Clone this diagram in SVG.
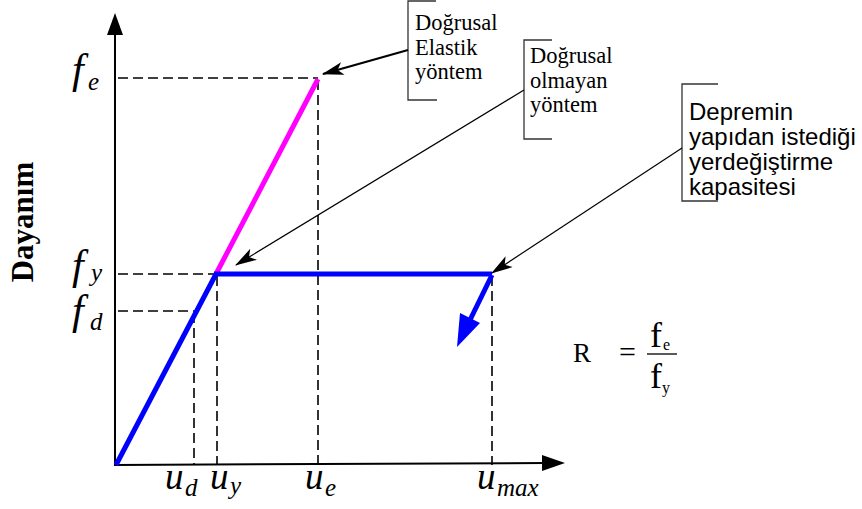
<svg xmlns="http://www.w3.org/2000/svg" width="862" height="509" viewBox="0 0 862 509">
<defs>
<style>
.m{font-family:"Liberation Serif",serif;font-style:italic;font-size:42px;fill:#000}
.u{font-family:"Liberation Serif",serif;font-style:italic;font-size:37px;fill:#000}
.ms{font-family:"Liberation Serif",serif;font-style:italic;font-size:25px;fill:#000}
.t{font-family:"Liberation Serif",serif;font-size:22.5px;fill:#000}
.a{font-family:"Liberation Sans",Arial,sans-serif;font-size:24px;fill:#000}
.r{font-family:"Liberation Serif",serif;fill:#000}
.dash{stroke:#000;stroke-width:1.6;stroke-dasharray:10 5;fill:none}
.br{stroke:#333;stroke-width:1.3;fill:none}
</style>
<marker id="ah" viewBox="0 0 20 12" refX="19" refY="6" markerWidth="22" markerHeight="13" markerUnits="userSpaceOnUse" orient="auto">
<path d="M0,0 L20,6 L0,12 L5,6 Z" fill="#000"/>
</marker>
</defs>
<rect width="862" height="509" fill="#fff"/>

<g id="axes">
<line x1="115" y1="466" x2="115" y2="30" stroke="#000" stroke-width="2"/>
<polygon points="115,13 107,35 123,35" fill="#000"/>
<line x1="114" y1="465" x2="545" y2="463" stroke="#000" stroke-width="2"/>
<polygon points="565,463 542,455 542,471" fill="#000"/>
</g>

<g id="guides">
<line class="dash" x1="118" y1="78" x2="318" y2="78"/>
<line class="dash" x1="318" y1="80" x2="318" y2="465"/>
<line class="dash" x1="118" y1="274" x2="216" y2="274"/>
<line class="dash" x1="217" y1="276" x2="217" y2="465"/>
<line class="dash" x1="118" y1="311" x2="194" y2="311" stroke-width="1.2"/>
<line class="dash" x1="194" y1="313" x2="194" y2="465" stroke-width="1.2" stroke="#444"/>
<line class="dash" x1="492" y1="276" x2="492" y2="465"/>
</g>

<g id="curve">
<line x1="216" y1="274" x2="318" y2="79" stroke="#ff00ff" stroke-width="5"/>
<line x1="116" y1="465" x2="216" y2="274" stroke="#0000ff" stroke-width="5"/>
<line x1="214" y1="274" x2="492" y2="274" stroke="#0000ff" stroke-width="5"/>
<line x1="492" y1="275" x2="470" y2="320" stroke="#0000ff" stroke-width="5"/>
<polygon points="457,347 460,313 480,323" fill="#0000ff"/>
</g>

<g id="axis-labels">
<text class="m" x="72" y="83">f</text><text class="ms" x="88" y="90">e</text>
<text class="m" x="72" y="279">f</text><text class="ms" x="91" y="281">y</text>
<text class="m" x="72" y="324">f</text><text class="ms" x="90" y="330">d</text>
<text class="u" x="165" y="489">u</text><text class="ms" x="185" y="496">d</text>
<text class="u" x="210" y="489">u</text><text class="ms" x="230" y="494">y</text>
<text class="u" x="305" y="489">u</text><text class="ms" x="325" y="496">e</text>
<text class="u" x="477" y="489">u</text><text class="ms" x="497" y="496">max</text>
<text x="33" y="222" transform="rotate(-90 33 222)" text-anchor="middle" font-family="Liberation Serif, serif" font-weight="bold" font-size="31">Dayanım</text>
</g>

<g id="formula">
<text class="r" x="573" y="362" font-size="27">R</text>
<text class="r" x="619" y="362" font-size="30">=</text>
<line x1="647" y1="354" x2="677" y2="354" stroke="#000" stroke-width="1.3"/>
<text class="r" x="650" y="347" font-size="36">f</text><text class="r" x="663" y="350" font-size="16">e</text>
<text class="r" x="650" y="388" font-size="36">f</text><text class="r" x="662" y="393" font-size="16">y</text>
</g>

<g id="callout-elastik">
<polyline class="br" points="436,1 408,1 408,100 437,100"/>
<text class="t" x="415" y="30">Doğrusal</text>
<text class="t" x="415" y="55">Elastik</text>
<text class="t" x="415" y="79">yöntem</text>
</g>

<g id="callout-nonlinear">
<polyline class="br" points="552,40 524,40 524,139 552,139"/>
<text class="t" x="530" y="63">Doğrusal</text>
<text class="t" x="530" y="88">olmayan</text>
<text class="t" x="530" y="112">yöntem</text>
</g>

<g id="callout-demand">
<polyline class="br" points="718,84 682,84 682,201 718,201"/>
<text class="a" x="689" y="120">Depremin</text>
<text class="a" x="689" y="145">yapıdan istediği</text>
<text class="a" x="689" y="170">yerdeğiştirme</text>
<text class="a" x="689" y="195">kapasitesi</text>
</g>

<g id="connectors">
<line x1="408" y1="50" x2="323" y2="74" stroke="#000" stroke-width="2.2" marker-end="url(#ah)"/>
<line x1="524" y1="90" x2="236" y2="265" stroke="#000" stroke-width="1.2" marker-end="url(#ah)"/>
<line x1="682" y1="148" x2="492" y2="273" stroke="#000" stroke-width="1.2" marker-end="url(#ah)"/>
</g>
</svg>
